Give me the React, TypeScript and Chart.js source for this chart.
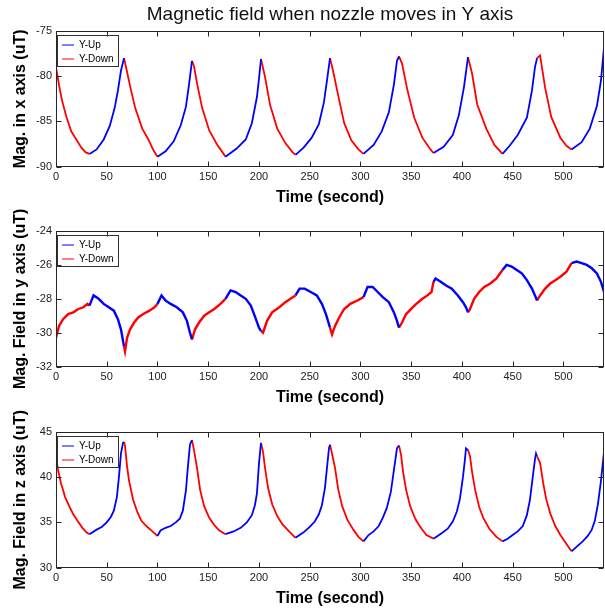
import { useEffect, useRef } from 'react';
import { Chart, registerables } from 'chart.js';

Chart.register(...registerables);
Chart.defaults.font.family = "'Liberation Sans', Arial, Helvetica, sans-serif";

// ---------------- DATA ----------------
const figureTitle = 'Magnetic field when nozzle moves in Y axis';
const seriesLabels = ['Y-Up', 'Y-Down'];
const xAxisLabel = 'Time (second)';
const yAxisLabels = ['Mag. in x axis (uT)', 'Mag. Field in y axis (uT)', 'Mag. Field in z axis (uT)'];
const timeRange = [0, 540];
const timeTickStep = 50;

// Nozzle direction switch times (s): Down, Up, Down, Up ...
const switchTimes = [0, 33, 67, 100, 134, 167, 202, 236, 270, 303, 338, 372, 406, 440, 474, 508, 540];

// Field along x (uT)
const timeX = [
  0, 3, 6, 10, 15, 20, 25, 29, 33,
  40, 47, 53, 58, 61, 64, 67,
  70, 73, 78, 85, 91, 96, 100,
  108, 116, 123, 128, 131, 134,
  136, 139, 144, 151, 159, 164, 167,
  178, 187, 193, 198, 200, 202,
  206, 211, 218, 226, 233, 236,
  244, 252, 259, 264, 267, 270,
  273, 278, 284, 291, 298, 303,
  313, 321, 328, 333, 336, 338,
  341, 346, 353, 361, 369, 372,
  382, 391, 397, 402, 406,
  410, 415, 424, 432, 440,
  447, 455, 464, 469, 472, 474,
  477, 482, 488, 497, 503, 508,
  518, 526, 533, 537, 540,
];
const fieldX = [
  -79.0, -81.0, -82.7, -84.4, -86.1, -87.0, -87.9, -88.4, -88.6,
  -88.1, -87.0, -85.5, -83.4, -81.6, -79.4, -78.0,
  -79.5, -81.1, -83.5, -85.8, -87.0, -88.2, -88.9,
  -88.3, -87.2, -85.4, -83.4, -81.0, -78.3,
  -78.9, -80.8, -83.5, -86.0, -87.6, -88.4, -88.9,
  -88.0, -87.0, -85.2, -82.3, -80.3, -78.1,
  -80.1, -83.2, -85.8, -87.4, -88.4, -88.7,
  -87.9, -86.8, -85.3, -82.9, -80.5, -78.0,
  -79.4, -82.1, -85.2, -87.1, -88.1, -88.6,
  -87.6, -86.1, -84.0, -80.9, -78.3, -77.8,
  -78.6, -81.4, -84.6, -86.8, -88.1, -88.5,
  -87.8, -86.5, -84.3, -81.2, -77.9,
  -79.7, -83.1, -85.8, -87.6, -88.6,
  -87.7, -86.5, -84.6, -81.6, -79.0, -78.0,
  -77.7, -81.3, -84.5, -86.8, -87.7, -88.1,
  -87.3, -85.8, -83.3, -80.5, -76.8,
];

// Field along y (uT)
const timeY = [
  0, 3, 7, 12, 17, 22, 27, 31, 33,
  37, 42, 47, 52, 57, 61, 64, 67,
  68, 70, 73, 77, 81, 86, 92, 97, 100,
  104, 108, 113, 119, 125, 129, 132, 134,
  137, 141, 146, 151, 156, 162, 167,
  172, 177, 182, 187, 192, 197, 200, 202,
  204, 208, 213, 220, 226, 231, 236,
  240, 245, 251, 257, 262, 266, 270,
  272, 275, 279, 284, 290, 297, 303,
  307, 312, 317, 322, 328, 333, 336, 338,
  341, 345, 350, 355, 361, 366, 370, 372,
  374, 379, 384, 390, 396, 401, 404, 406,
  408, 412, 417, 422, 428, 434, 440,
  444, 449, 454, 459, 464, 469, 472, 474,
  477, 482, 487, 492, 497, 503, 508,
  513, 518, 523, 528, 533, 537, 540,
];
const fieldY = [
  -30.3, -29.6, -29.2, -28.9, -28.8, -28.6, -28.5, -28.3, -28.4,
  -27.8, -28.0, -28.3, -28.5, -28.7, -29.2, -29.8, -30.8,
  -31.1, -30.3, -29.8, -29.4, -29.1, -28.9, -28.7, -28.5, -28.3,
  -27.8, -28.1, -28.3, -28.5, -28.8, -29.3, -30.0, -30.4,
  -29.8, -29.4, -29.0, -28.8, -28.6, -28.3, -28.0,
  -27.5, -27.6, -27.8, -28.0, -28.4, -29.2, -29.7, -29.9,
  -30.0, -29.3, -28.8, -28.5, -28.2, -28.0, -27.8,
  -27.4, -27.4, -27.6, -27.8, -28.3, -28.9, -29.7,
  -30.1, -29.6, -29.1, -28.6, -28.3, -28.1, -27.9,
  -27.3, -27.3, -27.6, -27.9, -28.2, -28.8, -29.3, -29.7,
  -29.4, -28.9, -28.6, -28.3, -28.0, -27.8, -27.6, -27.0,
  -26.8, -27.0, -27.2, -27.4, -27.8, -28.2, -28.5, -28.8,
  -28.6, -28.0, -27.6, -27.3, -27.1, -26.8, -26.3,
  -26.0, -26.1, -26.3, -26.5, -26.9, -27.4, -27.8, -28.1,
  -27.8, -27.4, -27.1, -26.9, -26.7, -26.4, -25.9,
  -25.8, -25.9, -26.0, -26.2, -26.5, -27.0, -27.6,
];

// Field along z (uT)
const timeZ = [
  0, 2, 5, 9, 13, 17, 21, 26, 30, 33,
  40, 45, 50, 54, 57, 60, 62, 64, 66, 67,
  68, 70, 72, 76, 80, 84, 89, 95, 100,
  103, 108, 113, 118, 122, 125, 128, 130, 132, 134,
  136, 139, 142, 146, 151, 156, 161, 167,
  175, 182, 188, 193, 196, 198, 200, 202,
  204, 206, 209, 213, 218, 223, 229, 236,
  244, 250, 255, 259, 262, 265, 267, 269, 270,
  272, 275, 278, 282, 287, 293, 298, 303,
  308, 313, 318, 322, 326, 330, 333, 336, 338,
  340, 342, 345, 349, 354, 359, 365, 372,
  380, 386, 391, 395, 398, 401, 403, 404, 406,
  408, 410, 413, 417, 421, 427, 434, 440,
  445, 450, 455, 460, 464, 467, 470, 472, 473, 474,
  477, 480, 483, 487, 492, 497, 503, 508,
  514, 519, 524, 528, 531, 534, 537, 540,
];
const fieldZ = [
  42.3, 40.8, 39.3, 37.8, 36.8, 35.9, 35.2, 34.4, 33.9, 33.7,
  34.2, 34.5, 35.0, 35.6, 36.3, 37.8, 40.0, 42.6, 43.8, 43.9,
  43.5, 41.2, 39.6, 37.5, 36.2, 35.2, 34.6, 34.0, 33.5,
  34.1, 34.4, 34.6, 35.0, 35.4, 36.3, 38.5, 41.2, 43.6, 44.1,
  43.0, 41.0, 38.6, 36.8, 35.5, 34.7, 34.1, 33.7,
  34.0, 34.4, 35.0, 35.8, 36.9, 38.2, 41.5, 43.8,
  42.8, 41.0, 38.8, 37.0, 35.7, 34.8, 34.1, 33.3,
  33.9, 34.5, 35.1, 35.9, 36.9, 38.8, 41.0, 43.2, 43.6,
  42.6, 41.0, 38.7, 36.8, 35.3, 34.2, 33.4, 32.9,
  33.6, 34.0, 34.6, 35.5, 36.6, 38.4, 40.8, 43.2, 43.5,
  42.5, 40.6, 38.6, 36.8, 35.4, 34.5, 33.6, 33.2,
  33.8, 34.3, 35.1, 36.2, 37.6, 40.0, 42.0, 43.2, 43.0,
  42.3, 40.6, 38.6, 36.7, 35.5, 34.3, 33.4, 32.9,
  33.2, 33.6, 34.0, 34.6, 35.8, 37.5, 40.2, 42.0, 42.6, 42.3,
  41.6, 39.4, 37.6, 36.0, 34.6, 33.6, 32.6, 31.8,
  32.4, 32.9, 33.5, 34.2, 35.2, 37.0, 39.6, 42.8,
];

const yRangeX = [-90, -75];
const yRangeY = [-32, -24];
const yRangeZ = [30, 45];
const yStepX = 5;
const yStepY = 2;
const yStepZ = 5;

// ---------------- HELPERS ----------------
function isDown(t: number) {
  for (let i = 0; i + 1 < switchTimes.length; i += 2) {
    if (t >= switchTimes[i] && t <= switchTimes[i + 1]) return true;
  }
  return false;
}
function isUp(t: number) {
  for (let i = 1; i + 1 < switchTimes.length; i += 2) {
    if (t >= switchTimes[i] && t <= switchTimes[i + 1]) return true;
  }
  return false;
}
function splitSeries(times: number[], values: number[]) {
  const up = times.map((t, i) => ({ x: t, y: isUp(t) ? values[i] : null }));
  const down = times.map((t, i) => ({ x: t, y: isDown(t) ? values[i] : null }));
  return { up, down };
}

const LEGEND_PAD = 4;
const LEGEND_FONT = 10;

const framePlugin = {
  id: 'matlabFrame',
  beforeDraw(chart: any) {
    // place the chartArea legend at the top-left corner inside the axes
    const lg = chart.legend;
    const a = chart.chartArea;
    if (lg) {
      lg.left = a.left + 2;
      lg.top = a.top + 5;
      lg.bottom = a.bottom;
    }
  },
  afterDraw(chart: any, _args: any, opts: any) {
    const { ctx, chartArea: a, scales } = chart;
    ctx.save();
    ctx.strokeStyle = '#262626';
    ctx.lineWidth = 1;
    const L = Math.round(a.left) + 0.5;
    const R = Math.round(a.right) - 0.5;
    const T = Math.round(a.top) + 0.5;
    const B = Math.round(a.bottom) - 0.5;
    ctx.strokeRect(L, T, R - L, B - T);
    ctx.beginPath();
    const tl = 5;
    scales.x.ticks.forEach((t: any) => {
      const p = Math.round(scales.x.getPixelForValue(t.value)) + 0.5;
      ctx.moveTo(p, B); ctx.lineTo(p, B - tl);
      ctx.moveTo(p, T); ctx.lineTo(p, T + tl);
    });
    scales.y.ticks.forEach((t: any) => {
      const p = Math.round(scales.y.getPixelForValue(t.value)) + 0.5;
      ctx.moveTo(L, p); ctx.lineTo(L + tl, p);
      ctx.moveTo(R, p); ctx.lineTo(R - tl, p);
    });
    ctx.stroke();

    const lg = chart.legend;
    const boxes = lg && lg.legendHitBoxes;
    if (boxes && boxes.length) {
      const maxW = Math.max(...boxes.map((h: any) => h.width));
      const n = boxes.length;
      const l = lg.left + LEGEND_PAD;
      const t = lg.top + LEGEND_PAD;
      const r = l + maxW;
      const b = t + n * LEGEND_FONT + (n - 1) * LEGEND_PAD;
      const x0 = Math.round(l - 5);
      const y0 = Math.round(t - 5);
      ctx.strokeStyle = '#333';
      ctx.strokeRect(x0 + 0.5, y0 + 0.5, Math.round(r + 4) - x0, Math.round(b + 2) - y0);
    }

    if (opts.yTitle) {
      ctx.save();
      ctx.translate(opts.yTitleX, (a.top + a.bottom) / 2);
      ctx.rotate(-Math.PI / 2);
      ctx.fillStyle = '#000';
      ctx.font = "bold 16px 'Liberation Sans', Arial, sans-serif";
      ctx.textAlign = 'center';
      ctx.textBaseline = 'middle';
      ctx.fillText(opts.yTitle, 0, 0);
      ctx.restore();
    }
    if (opts.figTitle) {
      ctx.fillStyle = '#111';
      ctx.font = "19px 'Liberation Sans', Arial, sans-serif";
      ctx.textAlign = 'center';
      ctx.textBaseline = 'middle';
      ctx.fillText(opts.figTitle, (a.left + a.right) / 2, opts.figTitleY);
    }
    ctx.restore();
  },
};

type PanelLayout = { top: number; height: number; padTop: number; lineWidth: number };
const panelLayouts: PanelLayout[] = [
  { top: 0, height: 207, padTop: 31, lineWidth: 1.8 },
  { top: 207, height: 200, padTop: 24, lineWidth: 2.4 },
  { top: 407, height: 201, padTop: 25, lineWidth: 1.8 },
];

function makeConfig(idx: number, times: number[], values: number[], yRange: number[], yStep: number): any {
  const { up, down } = splitSeries(times, values);
  const common = {
    pointRadius: 0,
    borderWidth: panelLayouts[idx].lineWidth,
    fill: false,
    tension: 0,
    spanGaps: false,
    pointStyle: 'line',
  };
  return {
    type: 'line',
    data: {
      datasets: [
        { ...common, label: seriesLabels[0], data: up, borderColor: '#0000ff', backgroundColor: '#0000ff' },
        { ...common, label: seriesLabels[1], data: down, borderColor: '#ff0000', backgroundColor: '#ff0000' },
      ],
    },
    options: {
      responsive: false,
      animation: false,
      devicePixelRatio: 1,
      events: [],
      layout: { padding: { top: panelLayouts[idx].padTop, right: 1, bottom: 0, left: 0 } },
      plugins: {
        legend: {
          position: 'chartArea',
          align: 'start',
          labels: {
            usePointStyle: true,
            pointStyleWidth: 12,
            boxHeight: LEGEND_FONT,
            padding: LEGEND_PAD,
            color: '#000',
            font: { size: LEGEND_FONT },
            generateLabels: (chart: any) =>
              Chart.defaults.plugins.legend.labels.generateLabels(chart).map((item: any) => ({ ...item, lineWidth: 1 })),
          },
        },
        tooltip: { enabled: false },
        title: { display: false },
        matlabFrame: {
          yTitle: yAxisLabels[idx],
          yTitleX: 21,
          figTitle: idx === 0 ? figureTitle : '',
          figTitleY: 15,
        },
      },
      scales: {
        x: {
          type: 'linear',
          min: timeRange[0],
          max: timeRange[1],
          grid: { display: false, drawTicks: false },
          border: { display: false },
          ticks: {
            stepSize: timeTickStep,
            includeBounds: false,
            padding: 4,
            color: '#222',
            font: { size: 11 },
            maxRotation: 0,
            autoSkip: false,
          },
          title: {
            display: true,
            text: xAxisLabel,
            color: '#000',
            font: { size: 16, weight: 'bold' },
            padding: { top: 0, bottom: 0 },
          },
        },
        y: {
          type: 'linear',
          min: yRange[0],
          max: yRange[1],
          afterFit: (s: any) => { s.width = 56; },
          grid: { display: false, drawTicks: false },
          border: { display: false },
          ticks: {
            stepSize: yStep,
            padding: 4,
            color: '#222',
            font: { size: 11 },
          },
        },
      },
    },
    plugins: [framePlugin],
  };
}

export default function App() {
  const c1 = useRef<HTMLCanvasElement>(null);
  const c2 = useRef<HTMLCanvasElement>(null);
  const c3 = useRef<HTMLCanvasElement>(null);

  useEffect(() => {
    const charts = [
      new Chart(c1.current as HTMLCanvasElement, makeConfig(0, timeX, fieldX, yRangeX, yStepX)),
      new Chart(c2.current as HTMLCanvasElement, makeConfig(1, timeY, fieldY, yRangeY, yStepY)),
      new Chart(c3.current as HTMLCanvasElement, makeConfig(2, timeZ, fieldZ, yRangeZ, yStepZ)),
    ];
    return () => charts.forEach((c) => c.destroy());
  }, []);

  const refs = [c1, c2, c3];
  return (
    <div style={{ position: 'absolute', left: 0, top: 0, width: 605, height: 609, background: '#fff', overflow: 'hidden' }}>
      {panelLayouts.map((p, i) => (
        <canvas
          key={i}
          ref={refs[i]}
          width={605}
          height={p.height}
          style={{ position: 'absolute', left: 0, top: p.top, width: 605, height: p.height }}
        />
      ))}
    </div>
  );
}
